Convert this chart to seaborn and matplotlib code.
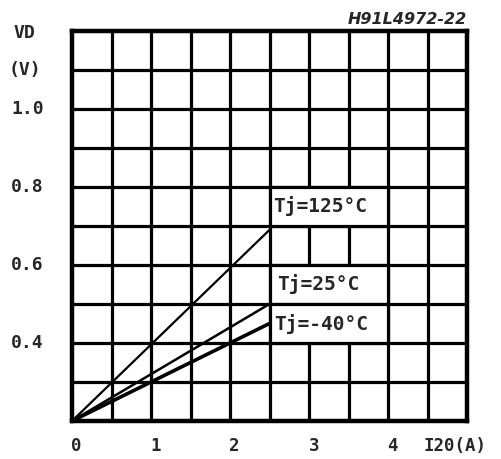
import matplotlib
matplotlib.use("Agg")
import matplotlib.pyplot as plt
from matplotlib.patches import Rectangle
from matplotlib.transforms import blended_transform_factory
import numpy as np
import pandas as pd
import seaborn as sns

# Forward voltage vs current at three junction temperatures
current_a = [0.0, 2.5]
vd_125 = [0.20, 0.69]
vd_25 = [0.20, 0.50]
vd_m40 = [0.20, 0.45]
series_labels = ["Tj=125°C", "Tj=25°C", "Tj=-40°C"]

y_ticks = [0.4, 0.6, 0.8, 1.0]
y_tick_labels = ["0.4", "0.6", "0.8", "1.0"]
x_ticks = [0, 1, 2, 3, 4]
x_tick_labels = ["0", "1", "2", "3", "4"]
x_unit = "I20(A)"
y_name = "VD"
y_unit = "(V)"
figure_code = "H91L4972-22"

df = pd.concat([
    pd.DataFrame({"I": current_a, "VD": vd_125, "Tj": series_labels[0]}),
    pd.DataFrame({"I": current_a, "VD": vd_25, "Tj": series_labels[1]}),
    pd.DataFrame({"I": current_a, "VD": vd_m40, "Tj": series_labels[2]}),
], ignore_index=True)

sns.set_style("white")
plt.rcParams["font.family"] = ["DejaVu Sans Mono", "DejaVu Sans"]

fig = plt.figure(figsize=(5.02, 4.59), dpi=100)
ax = fig.add_axes([72 / 502, 38 / 459, 395 / 502, 390 / 459])

ax.set_xlim(0, 5)
ax.set_ylim(0.2, 1.2)

# square grid: 0.5 A by 0.1 V
for gx in np.arange(0.5, 5.0, 0.5):
    ax.axvline(gx, color="black", lw=2.3, zorder=1)
for gy in np.arange(0.3, 1.2, 0.1):
    ax.axhline(gy, color="black", lw=2.3, zorder=1)

sns.lineplot(data=df, x="I", y="VD", hue="Tj", palette=["black"] * 3,
             legend=False, ax=ax, zorder=3)
widths = [1.6, 1.8, 2.6]
for line, w in zip(ax.get_lines()[-3:], widths):
    line.set_linewidth(w)
    line.set_solid_capstyle("butt")

# labels in white boxes covering the grid cells
boxes = [(0.7, series_labels[0], 2.54), (0.5, series_labels[1], 2.6),
         (0.4, series_labels[2], 2.56)]
for y0, txt, tx in boxes:
    ax.add_patch(Rectangle((2.5, y0), 1.5, 0.1, facecolor="white",
                           edgecolor="black", lw=2.3, zorder=2))
    ax.text(tx, y0 + 0.05, txt, fontsize=14, fontweight="bold",
            ha="left", va="center", zorder=4)

for s in ax.spines.values():
    s.set_visible(True)
    s.set_color("black")
    s.set_linewidth(3.2)

ax.set_xticks([])
ax.set_yticks([])
ax.set_xlabel("")
ax.set_ylabel("")

for v, t in zip(x_ticks, x_tick_labels):
    ax.text(v + 0.06, -0.065, t, transform=ax.get_xaxis_transform(),
            fontsize=12.5, fontweight="bold", ha="center", va="center")
ax.text(4.85, -0.065, x_unit, transform=ax.get_xaxis_transform(),
        fontsize=12.5, fontweight="bold", ha="center", va="center")

trans = blended_transform_factory(fig.transFigure, ax.transData)
for v, t in zip(y_ticks, y_tick_labels):
    fig.text(11 / 502, v, t, transform=trans, fontsize=13, fontweight="bold",
             ha="left", va="center")
fig.text(13 / 502, 1.195, y_name, transform=trans, fontsize=13,
         fontweight="bold", ha="left", va="center")
fig.text(9 / 502, 1.1, y_unit, transform=trans, fontsize=13,
         fontweight="bold", ha="left", va="center")

fig.text(467 / 502, 1 - 19 / 459, figure_code, fontsize=11.5, fontweight="heavy",
         style="italic", ha="right", va="center", family="DejaVu Sans")

fig.savefig("out.png", dpi=100, facecolor="white")
